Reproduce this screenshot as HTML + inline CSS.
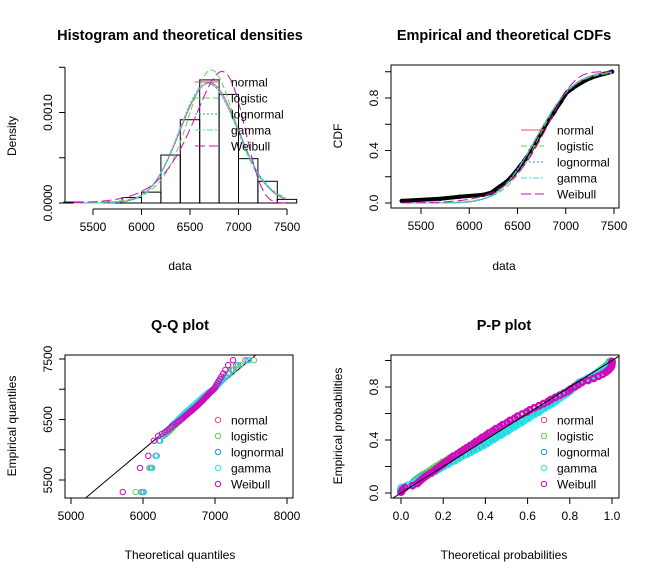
<!DOCTYPE html>
<html><head><meta charset="utf-8"><style>
html,body{margin:0;padding:0;background:#fff;}
svg{display:block;font-family:"Liberation Sans",Arial,sans-serif;}
</style></head><body>
<svg id="c" width="653" height="580" xmlns="http://www.w3.org/2000/svg"></svg>
<script>
// ---- data ----
const histBreaks = [5200,5400,5600,5800,6000,6200,6400,6600,6800,7000,7200,7400,7600];
const histDensity = [0.00001,0,0.00001,0.00006,0.00012,0.00053,0.00092,0.00136,0.00120,0.00049,0.00024,0.00004];
const sample = [5300,5700,5900,6150,6230,6260,6290,6320,6350,6380,6405,6425,6445,6465,6480,6500,6515,6530,6550,6565,6580,6595,6610,6625,6635,6650,6660,6675,6685,6700,6710,6725,6735,6750,6760,6775,6785,6800,6815,6825,6840,6855,6870,6885,6895,6910,6925,6940,6955,6965,6980,6995,7010,7040,7070,7100,7135,7170,7210,7260,7320,7400,7480];
const distNames = ["normal","logistic","lognormal","gamma","Weibull"];
const distColors = ["#DF536B","#61D04F","#2297E6","#28E2E5","#CD0BBC"];
const distDash = ["","6,3","2,2","6,2,2,2","10,4"];
const normParams = [6700,300];
const logisParams = [6720,170];
const lnormParams = [8.8095,0.045];
const gammaParams = [490,490/6700];
const weibParams = [27,6840];
const densTicks = [0,0.0005,0.0010,0.0015];
const densTickLabels = ["0.0000","","0.0010",""];
const dataTicks = [5500,6000,6500,7000,7500];
const qqXTicks = [5000,6000,7000,8000];
const qqYTicks = [5500,6000,6500,7000,7500];
const qqYLabels = ["5500","","6500","","7500"];
const probTicks = [0,0.2,0.4,0.6,0.8,1.0];
const probYLabels = ["0.0","","0.4","","0.8",""];

// ---- math ----
function erf(x){const s=x<0?-1:1;x=Math.abs(x);const t=1/(1+0.3275911*x);
 const y=1-(((((1.061405429*t-1.453152027)*t)+1.421413741)*t-0.284496736)*t+0.254829592)*t*Math.exp(-x*x);return s*y;}
function pnormStd(z){return 0.5*(1+erf(z/Math.SQRT2));}
function qnormStd(p){const a=[-39.69683028665376,220.9460984245205,-275.9285104469687,138.3577518672690,-30.66479806614716,2.506628277459239],
b=[-54.47609879822406,161.5858368580409,-155.6989798598866,66.80131188771972,-13.28068155288572],
c=[-0.007784894002430293,-0.3223964580411365,-2.400758277161838,-2.549732539343734,4.374664141464968,2.938163982698783],
d=[0.007784695709041462,0.3224671290700398,2.445134137142996,3.754408661907416];
const pl=0.02425;let q,r;
if(p<pl){q=Math.sqrt(-2*Math.log(p));return (((((c[0]*q+c[1])*q+c[2])*q+c[3])*q+c[4])*q+c[5])/((((d[0]*q+d[1])*q+d[2])*q+d[3])*q+1);}
if(p>1-pl){q=Math.sqrt(-2*Math.log(1-p));return -(((((c[0]*q+c[1])*q+c[2])*q+c[3])*q+c[4])*q+c[5])/((((d[0]*q+d[1])*q+d[2])*q+d[3])*q+1);}
q=p-0.5;r=q*q;return (((((a[0]*r+a[1])*r+a[2])*r+a[3])*r+a[4])*r+a[5])*q/(((((b[0]*r+b[1])*r+b[2])*r+b[3])*r+b[4])*r+1);}
function lgam(k){return (k-0.5)*Math.log(k)-k+0.5*Math.log(2*Math.PI)+1/(12*k);}
const D={
 normal:{d:x=>Math.exp(-0.5*((x-normParams[0])/normParams[1])**2)/(normParams[1]*Math.sqrt(2*Math.PI)),
   p:x=>pnormStd((x-normParams[0])/normParams[1]), q:p=>normParams[0]+normParams[1]*qnormStd(p)},
 logistic:{d:x=>{const e=Math.exp(-(x-logisParams[0])/logisParams[1]);return e/(logisParams[1]*(1+e)**2);},
   p:x=>1/(1+Math.exp(-(x-logisParams[0])/logisParams[1])), q:p=>logisParams[0]+logisParams[1]*Math.log(p/(1-p))},
 lognormal:{d:x=>Math.exp(-0.5*((Math.log(x)-lnormParams[0])/lnormParams[1])**2)/(x*lnormParams[1]*Math.sqrt(2*Math.PI)),
   p:x=>pnormStd((Math.log(x)-lnormParams[0])/lnormParams[1]), q:p=>Math.exp(lnormParams[0]+lnormParams[1]*qnormStd(p))},
 gamma:{d:x=>{const k=gammaParams[0],r=gammaParams[1];return Math.exp((k-1)*Math.log(x)+k*Math.log(r)-r*x-lgam(k));},
   p:x=>{const k=gammaParams[0],r=gammaParams[1];return pnormStd((Math.cbrt(x*r/k)-(1-1/(9*k)))/Math.sqrt(1/(9*k)));},
   q:p=>{const k=gammaParams[0],r=gammaParams[1];const z=qnormStd(p);return k/r*Math.pow(1-1/(9*k)+z*Math.sqrt(1/(9*k)),3);}},
 Weibull:{d:x=>{const k=weibParams[0],l=weibParams[1];return k/l*Math.pow(x/l,k-1)*Math.exp(-Math.pow(x/l,k));},
   p:x=>1-Math.exp(-Math.pow(x/weibParams[1],weibParams[0])), q:p=>weibParams[1]*Math.pow(-Math.log(1-p),1/weibParams[0])}
};

// ---- drawing helpers ----
const svg=document.getElementById('c');const NS="http://www.w3.org/2000/svg";
function el(tag,attrs,parent){const e=document.createElementNS(NS,tag);for(const k in attrs)e.setAttribute(k,attrs[k]);(parent||svg).appendChild(e);return e;}
function txt(s,x,y,attrs,parent){const t=el('text',Object.assign({x:x,y:y,'font-size':12,fill:'#000'},attrs||{}),parent);t.textContent=s;return t;}
function lin(d0,d1,r0,r1){return v=>r0+(v-d0)*(r1-r0)/(d1-d0);}
function xAxis(g,sx,ticks,labels,y){const a=el('g',{},g);
 
 el('line',{x1:sx(ticks[0]),x2:sx(ticks[ticks.length-1]),y1:y,y2:y,stroke:'#000'},a);
 ticks.forEach((t,i)=>{el('line',{x1:sx(t),x2:sx(t),y1:y,y2:y+6,stroke:'#000'},a);
  if(labels[i])txt(labels[i],sx(t),y+22,{'text-anchor':'middle'},a);});}
function yAxis(g,sy,ticks,labels,x){const a=el('g',{},g);
 
 el('line',{x1:x,x2:x,y1:sy(ticks[0]),y2:sy(ticks[ticks.length-1]),stroke:'#000'},a);
 ticks.forEach((t,i)=>{el('line',{x1:x,x2:x-6,y1:sy(t),y2:sy(t),stroke:'#000'},a);
  if(labels[i]){const X=x-13,Y=sy(t);txt(labels[i],X,Y,{'text-anchor':'middle',transform:`rotate(-90 ${X} ${Y})`},a);}});}
function title(s,x,y){const t=txt(s,x,y,{'text-anchor':'middle','font-size':14.5,'font-weight':'bold'});
 }
function xlab(s,x,y){const t=txt(s,x,y,{'text-anchor':'middle'});}
function ylab(s,x,y){const t=txt(s,x,y,{'text-anchor':'middle',transform:`rotate(-90 ${x} ${y})`});}
function legend(g,x0,y0,type){const L=el('g',{},g);
 distNames.forEach((n,i)=>{const y=y0+i*16;const E=el('g',{},L);
  
  if(type==='line')el('line',{x1:x0,x2:x0+23,y1:y,y2:y,stroke:distColors[i],'stroke-dasharray':distDash[i]},E);
  else el('circle',{cx:x0+23,cy:y,r:2.7,fill:'none',stroke:distColors[i]},E);
  txt(n,x0+36,y+4.5,{},E);});}
function curve(g,f,sx,sy,x0,x1,i){let d='';for(let k=0;k<=200;k++){const x=x0+(x1-x0)*k/200;const y=sy(f(x));d+=(k?'L':'M')+sx(x).toFixed(1)+','+y.toFixed(1);}
 const p=el('path',{d:d,fill:'none',stroke:distColors[i],'stroke-dasharray':distDash[i]},g);
 }

// ---- Panel 1: histogram ----
{const g=el('g',{});
 const sx=lin(5500,7500,93,287), sy=lin(0,0.0010,203,112.5);
 title('Histogram and theoretical densities',180,40);
 histDensity.forEach((v,i)=>{const r=el('rect',{x:sx(histBreaks[i]),y:sy(v),width:sx(histBreaks[i+1])-sx(histBreaks[i]),height:203-sy(v),fill:'none',stroke:'#000'},g);
  });
 distNames.forEach((n,i)=>curve(g,D[n].d,sx,sy,5300,7480,i));
 xAxis(g,sx,dataTicks,dataTicks.map(String),209);
 yAxis(g,sy,densTicks,densTickLabels,65);
 xlab('data',180,270);ylab('Density',16,136);
 legend(g,195,82,'line');}

// ---- Panel 2: CDF ----
{const g=el('g',{});
 const sx=lin(5500,7500,421,614), sy=lin(0,0.8,203,98);
 title('Empirical and theoretical CDFs',504,40);
 el('rect',{x:391,y:65,width:228,height:143,fill:'none',stroke:'#000'},g);
 const n=sample.length;let d='';
 sample.forEach((v,i)=>{const y1=sy((i+1)/n);d+=(i?'L':'M')+sx(v).toFixed(1)+','+y1.toFixed(1);});
 const e=el('path',{d:d,fill:'none',stroke:'#000','stroke-width':4},g);
 sample.forEach((v,i)=>{const c=el('circle',{cx:sx(v),cy:sy((i+1)/n),r:2.2,fill:'#000'},g);});
 distNames.forEach((nm,i)=>curve(g,D[nm].p,sx,sy,5300,7480,i));
 xAxis(g,sx,dataTicks,dataTicks.map(String),208);
 yAxis(g,sy,[0,0.2,0.4,0.6,0.8,1.0],probYLabels,391);
 xlab('data',504,270);ylab('CDF',342,136);
 legend(g,521,130,'line');}

// ---- Panel 3: QQ ----
{const g=el('g',{});
 const sx=lin(5000,8000,71,287), sy=lin(5500,7500,480,359);
 title('Q-Q plot',180,330);
 const cp=el('clipPath',{id:'cq'});el('rect',{x:65,y:355,width:228,height:143},cp);
 const inner=el('g',{'clip-path':'url(#cq)'},g);
 el('line',{x1:sx(5000),y1:sy(5000),x2:sx(8000),y2:sy(8000),stroke:'#000'},inner);
 const n=sample.length;
 distNames.forEach((nm,i)=>sample.forEach((v,k)=>{const q=D[nm].q((k+0.5)/n);
  const c=el('circle',{cx:sx(q),cy:sy(v),r:2.7,fill:'none',stroke:distColors[i]},inner);
  }));
 el('rect',{x:65,y:355,width:228,height:143,fill:'none',stroke:'#000'},g);
 xAxis(g,sx,qqXTicks,qqXTicks.map(String),498);
 yAxis(g,sy,qqYTicks,qqYLabels,65);
 xlab('Theoretical quantiles',180,559);ylab('Empirical quantiles',16,426);
 legend(g,195,420,'pt');}

// ---- Panel 4: PP ----
{const g=el('g',{});
 const sx=lin(0,1,401,612), sy=lin(0,0.8,493,387);
 title('P-P plot',504,330);
 const cp=el('clipPath',{id:'cpp'});el('rect',{x:391,y:355,width:228,height:143},cp);
 const inner=el('g',{'clip-path':'url(#cpp)'},g);
 const n=sample.length;
 distNames.forEach((nm,i)=>sample.forEach((v,k)=>{
  const c=el('circle',{cx:sx(D[nm].p(v)),cy:sy((k+0.5)/n),r:2.7,fill:'none',stroke:distColors[i],'stroke-width':2.5},inner);
  }));
 el('line',{x1:sx(-0.1),y1:sy(-0.1),x2:sx(1.1),y2:sy(1.1),stroke:'#000'},inner);
 el('rect',{x:391,y:355,width:228,height:143,fill:'none',stroke:'#000'},g);
 xAxis(g,sx,probTicks,probTicks.map(v=>v.toFixed(1)),498);
 yAxis(g,sy,probTicks,probYLabels,391);
 xlab('Theoretical probabilities',504,559);ylab('Empirical probabilities',342,426);
 legend(g,521,420,'pt');}
</script>
</body></html>
